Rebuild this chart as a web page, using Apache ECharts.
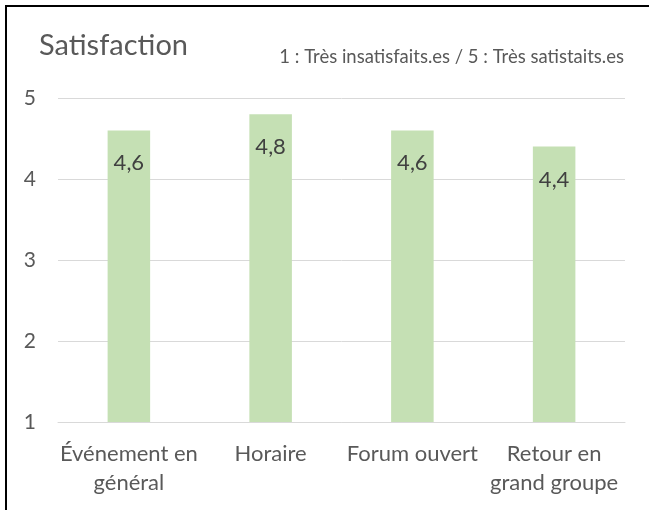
<!DOCTYPE html>
<html>
<head>
<meta charset="utf-8">
<script src="https://cdn.jsdelivr.net/npm/echarts@6/dist/echarts.min.js"></script>
<style>
  html, body { margin: 0; padding: 0; background: #fff; }
  #frame {
    position: absolute;
    left: 5px;
    top: 5px;
    width: 660px;
    height: 520px;
    border-left: 2px solid #000;
    border-top: 2px solid #000;
  }
  #chart { position: absolute; left: 0; top: 0; width: 649px; height: 510px; }
</style>
</head>
<body>
<div id="frame"></div>
<div id="chart"></div>
<script>
const categories = ['Événement en\ngénéral', 'Horaire', 'Forum ouvert', 'Retour en\ngrand groupe']
const scores = [4.6, 4.8, 4.6, 4.4]
const yTicks = [1, 2, 3, 4, 5]

const font = 'Lato, "Noto Sans", sans-serif'
const chart = echarts.init(document.getElementById('chart'))

const option = {
  animation: false,
  title: [
    {
      text: 'Satisfaction',
      left: 34,
      top: 26,
      textStyle: { fontFamily: font, fontSize: 29, fontWeight: 'normal', color: '#595959' }
    },
    {
      text: '1 : Très insatisfaits.es / 5 : Très satistaits.es',
      right: 20,
      top: 43,
      textStyle: { fontFamily: font, fontSize: 18.5, fontWeight: 'normal', color: '#595959' }
    }
  ],
  grid: { left: 58, right: 24, top: 98, bottom: 88 },
  xAxis: {
    type: 'category',
    data: categories,
    axisLine: { show: true, lineStyle: { color: '#d9d9d9', width: 1 } },
    axisTick: { show: false },
    axisLabel: {
      color: '#595959',
      fontFamily: font,
      fontSize: 22,
      lineHeight: 29,
      margin: 17,
      interval: 0
    }
  },
  yAxis: {
    type: 'value',
    min: yTicks[0],
    max: yTicks[yTicks.length - 1],
    interval: 1,
    axisLine: { show: false },
    axisTick: { show: false },
    axisLabel: { color: '#595959', fontFamily: font, fontSize: 21, margin: 22 },
    splitLine: { lineStyle: { color: '#d9d9d9', width: 1 } }
  },
  series: [
    {
      type: 'bar',
      data: scores,
      barWidth: '30%',
      itemStyle: { color: '#c5e0b4' },
      label: {
        show: true,
        position: 'insideTop',
        distance: 22,
        color: '#404040',
        fontFamily: font,
        fontSize: 22,
        formatter: p => String(p.value).replace('.', ',')
      }
    }
  ]
}

chart.setOption(option)
</script>
</body>
</html>
